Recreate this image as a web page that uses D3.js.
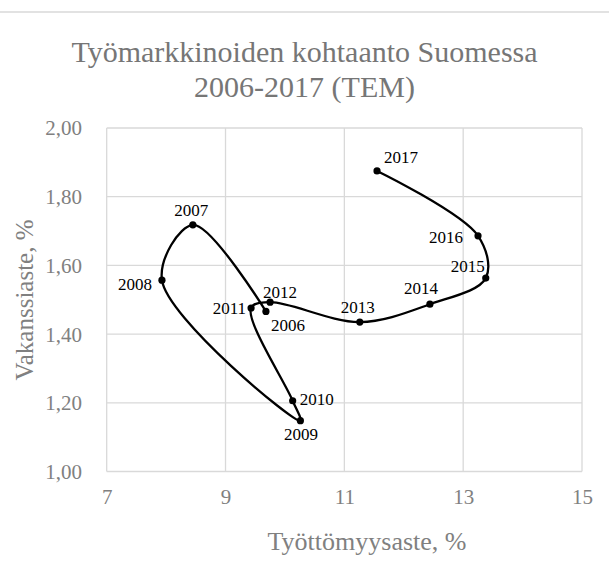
<!DOCTYPE html>
<html><head><meta charset="utf-8">
<script src="https://cdn.jsdelivr.net/npm/d3@7"></script>
<style>html,body{margin:0;padding:0;background:#fff;}svg{display:block;}</style>
</head><body>
<script>
const years = ["2006","2007","2008","2009","2010","2011","2012","2013","2014","2015","2016","2017"];
const unemployment = [9.68, 8.45, 7.93, 10.26, 10.13, 9.43, 9.75, 11.26, 12.44, 13.38, 13.25, 11.55];
const vacancy = [1.466, 1.718, 1.557, 1.148, 1.206, 1.476, 1.493, 1.435, 1.487, 1.563, 1.686, 1.875];
const xTicks = [7, 9, 11, 13, 15];
const yTicks = [1.0, 1.2, 1.4, 1.6, 1.8, 2.0];
const titleLines = ["Työmarkkinoiden kohtaanto Suomessa", "2006-2017 (TEM)"];
const xTitle = "Työttömyysaste, %";
const yTitle = "Vakanssiaste, %";
// label placement: [dx, dy, anchor]
const labelPos = {
  "2006":[5,20,"start"], "2007":[-1.5,-8.5,"middle"], "2008":[-10,10,"end"], "2009":[0.5,19.5,"middle"],
  "2010":[7,4.5,"start"], "2011":[-5,6,"end"], "2012":[-7,-4.5,"start"], "2013":[-2,-9.5,"middle"],
  "2014":[-9,-10,"middle"], "2015":[-1,-6.5,"end"], "2016":[-15,7.5,"end"], "2017":[7,-8,"start"]
};

const W = 609, H = 574;
const svg = d3.select("body").append("svg").attr("width", W).attr("height", H);
const font = "'Liberation Serif', 'DejaVu Serif', serif";

svg.append("line").attr("x1",0).attr("x2",W).attr("y1",12).attr("y2",12)
  .attr("stroke","#d9d9d9").attr("stroke-width",1.5);

const x = d3.scaleLinear().domain([7,15]).range([106.7,582]);
const y = d3.scaleLinear().domain([1,2]).range([471.5,128]);

const g = svg.append("g");
g.selectAll(".vg").data(xTicks).join("line")
  .attr("x1",d=>x(d)).attr("x2",d=>x(d)).attr("y1",y(2)).attr("y2",y(1))
  .attr("stroke","#d9d9d9").attr("stroke-width",1.3);
g.selectAll(".hg").data(yTicks).join("line")
  .attr("x1",x(7)).attr("x2",x(15)).attr("y1",d=>y(d)).attr("y2",d=>y(d))
  .attr("stroke","#d9d9d9").attr("stroke-width",1.3);

const fmt = d => d.toFixed(2).replace(".", ",");
const xAxis = d3.axisBottom(x).tickValues(xTicks).tickSize(0).tickPadding(0).tickFormat(d=>d);
const yAxis = d3.axisLeft(y).tickValues(yTicks).tickSize(0).tickPadding(0).tickFormat(fmt);
const gx = svg.append("g").attr("transform",`translate(0,504)`).call(xAxis);
const gy = svg.append("g").attr("transform",`translate(82,0)`).call(yAxis);
[gx,gy].forEach(a=>{ a.select(".domain").remove();
  a.selectAll("text").attr("font-family",font).attr("font-size",21).attr("fill","#808080"); });
gx.selectAll("text").attr("dy",0).attr("y",0);
gy.selectAll("text").attr("dy","0.33em");

svg.append("g").selectAll("text").data(titleLines).join("text")
  .attr("x",W/2).attr("y",(d,i)=>62+i*35)
  .attr("text-anchor","middle").attr("font-family",font).attr("font-size",30)
  .attr("fill","#767676").text(d=>d);
svg.append("text").attr("x",367).attr("y",550).attr("text-anchor","middle")
  .attr("font-family",font).attr("font-size",26).attr("fill","#808080").text(xTitle);
svg.append("text").attr("transform",`translate(33,300) rotate(-90)`).attr("text-anchor","middle")
  .attr("font-family",font).attr("font-size",25).attr("fill","#808080").text(yTitle);

const pts = years.map((yr,i)=>({yr, u:unemployment[i], v:vacancy[i]}));
const line = d3.line().x(d=>x(d.u)).y(d=>y(d.v)).curve(d3.curveCatmullRom.alpha(0.5));
svg.append("path").datum(pts).attr("d",line).attr("fill","none")
  .attr("stroke","#000").attr("stroke-width",2.3);
svg.append("g").selectAll("circle").data(pts).join("circle")
  .attr("cx",d=>x(d.u)).attr("cy",d=>y(d.v)).attr("r",3.6).attr("fill","#000");
svg.append("g").selectAll("text").data(pts).join("text")
  .attr("x",d=>x(d.u)+labelPos[d.yr][0]).attr("y",d=>y(d.v)+labelPos[d.yr][1])
  .attr("text-anchor",d=>labelPos[d.yr][2])
  .attr("font-family",font).attr("font-size",17).attr("fill","#000").text(d=>d.yr);
</script>
</body></html>
